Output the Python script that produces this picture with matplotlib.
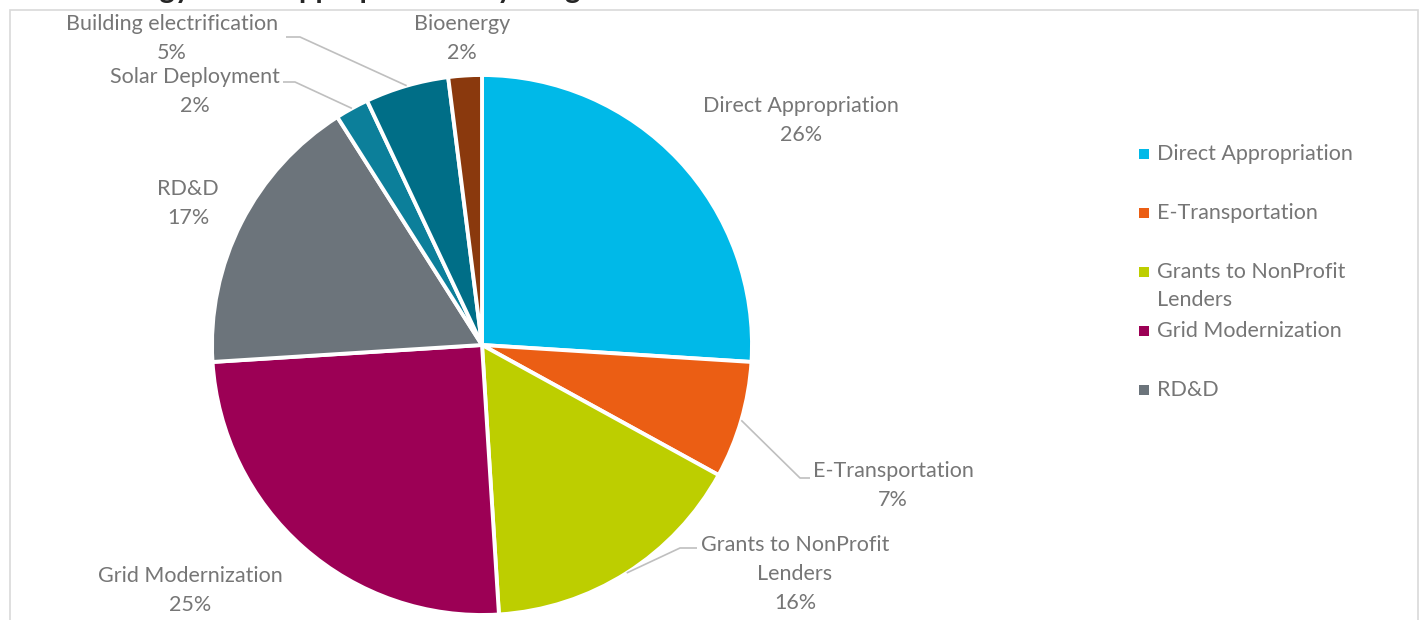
import matplotlib
matplotlib.use("Agg")
import matplotlib.pyplot as plt
import numpy as np
from matplotlib.patches import Rectangle

categories = ["Direct Appropriation", "E-Transportation", "Grants to NonProfit\nLenders",
              "Grid Modernization", "RD&D", "Solar Deployment",
              "Building electrification", "Bioenergy"]
values = [26, 7, 16, 25, 17, 2, 5, 2]
colors = ["#00B9E8", "#EB5E14", "#BDCE00", "#9C0055", "#6C747B", "#0C7F9A", "#006E87", "#8A390D"]
legend_count = 5
title = "Energy Grant Appropriations by Program"

W, H = 1423, 620
fig = plt.figure(figsize=(W / 100, H / 100), dpi=100)
ax = fig.add_axes([0, 0, 1, 1])

def Y(y):
    return H - y

cx, cy, R = 482, 345, 270
wedges, _ = ax.pie(values, colors=colors, startangle=90, counterclock=False,
                   center=(cx, Y(cy)), radius=R,
                   wedgeprops=dict(edgecolor="white", linewidth=2.8))
ax.set_xlim(0, W)
ax.set_ylim(0, H)
ax.set_aspect("auto")
ax.axis("off")

txt_color = "#767676"
font = "Lato"
fs = 15.5

label_layout = {
    0: dict(x=801, y=106, lead=None),
    1: dict(x=893, y=471, lead=[(800, 478), (810, 478)]),
    2: dict(x=795, y=545, lead=[(680, 548), (697, 548)]),
    3: dict(x=190, y=576, lead=None),
    4: dict(x=188, y=189, lead=None),
    5: dict(x=195, y=77, lead=[(295, 82), (283, 82)]),
    6: dict(x=172, y=24, lead=[(300, 37), (286, 37)]),
    7: dict(x=462, y=24, lead=None),
}
line_h = 29

total = sum(values)
for i, (w, name, v) in enumerate(zip(wedges, categories, values)):
    lay = label_layout[i]
    lines = name.split("\n") + [f"{round(100 * v / total)}%"]
    for k, s in enumerate(lines):
        ax.text(lay["x"], Y(lay["y"] + k * line_h), s, ha="center", va="center",
                color=txt_color, fontsize=fs, family=font)
    if lay["lead"]:
        ang = np.deg2rad((w.theta1 + w.theta2) / 2)
        ex = cx + R * np.cos(ang)
        ey = Y(cy) + R * np.sin(ang)
        xs = [ex] + [p[0] for p in lay["lead"]]
        ys = [ey] + [Y(p[1]) for p in lay["lead"]]
        ax.plot(xs, ys, color="#BFBFBF", lw=1.2, solid_capstyle="butt")

# legend (first entries only, as in the original)
ly = 154
for i in range(legend_count):
    ax.scatter([1144], [Y(ly)], marker="s", s=42, color=colors[i], linewidths=0)
    for k, s in enumerate(categories[i].split("\n")):
        ax.text(1157, Y(ly + k * 28), s, ha="left", va="center",
                color=txt_color, fontsize=fs, family=font)
    ly += 59

# chart border
ax.add_patch(Rectangle((10, -10), 1408, Y(10) + 10, fill=False, edgecolor="#D9D9D9", lw=1.2))

# title (cut off at the top of the image, as in the reference)
ax.text(100, Y(-2), title, ha="left", va="baseline", color="#262626",
        fontsize=21, fontweight="bold", family=font)

fig.savefig("out.png", dpi=100)
